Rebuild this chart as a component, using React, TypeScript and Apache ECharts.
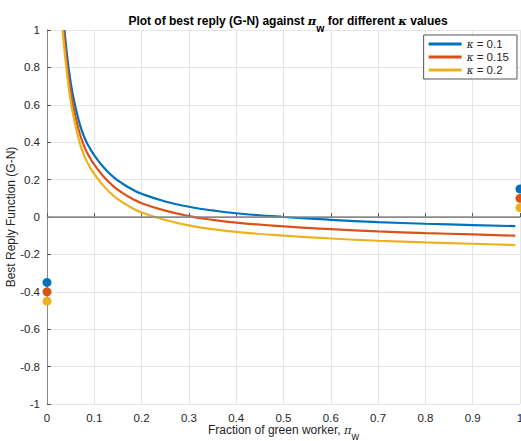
import React, { useEffect, useRef } from "react";
import * as echarts from "echarts";

// Best-reply curves (G-N) for each kappa, as [pi_w, value] pairs
const kappaValues = ["0.1", "0.15", "0.2"];
const seriesColors = ["#0072BD", "#D95319", "#EDB120"];

const curveKappa010: [number, number][] = [
  [0.037, 1.0], [0.04, 0.92], [0.045, 0.81], [0.05, 0.72], [0.055, 0.65],
  [0.06, 0.59], [0.07, 0.49], [0.08, 0.42], [0.09, 0.37], [0.1, 0.33],
  [0.12, 0.265], [0.14, 0.215], [0.16, 0.178], [0.18, 0.148], [0.2, 0.124],
  [0.25, 0.083], [0.3, 0.055], [0.35, 0.035], [0.4, 0.02], [0.5, 0.0],
  [0.6, -0.015], [0.7, -0.027], [0.8, -0.036], [0.9, -0.043], [0.99, -0.049],
];
const curveKappa015: [number, number][] = [
  [0.035, 1.0], [0.04, 0.87], [0.045, 0.76], [0.05, 0.67], [0.055, 0.6],
  [0.06, 0.54], [0.07, 0.44], [0.08, 0.37], [0.09, 0.32], [0.1, 0.28],
  [0.12, 0.215], [0.14, 0.165], [0.16, 0.128], [0.18, 0.098], [0.2, 0.074],
  [0.25, 0.034], [0.3, 0.005], [0.35, -0.015], [0.4, -0.03], [0.5, -0.05],
  [0.6, -0.065], [0.7, -0.077], [0.8, -0.086], [0.9, -0.093], [0.99, -0.1],
];
const curveKappa020: [number, number][] = [
  [0.033, 1.0], [0.035, 0.94], [0.04, 0.82], [0.045, 0.71], [0.05, 0.62],
  [0.055, 0.55], [0.06, 0.49], [0.07, 0.39], [0.08, 0.32], [0.09, 0.27],
  [0.1, 0.23], [0.12, 0.165], [0.14, 0.115], [0.16, 0.078], [0.18, 0.048],
  [0.2, 0.024], [0.25, -0.016], [0.3, -0.045], [0.35, -0.065], [0.4, -0.08],
  [0.5, -0.1], [0.6, -0.115], [0.7, -0.127], [0.8, -0.136], [0.9, -0.143],
  [0.99, -0.15],
];
const curves = [curveKappa010, curveKappa015, curveKappa020];

// Isolated end-point values at pi_w = 0 and pi_w = 1
const valueAtZero = [-0.35, -0.4, -0.45];
const valueAtOne = [0.15, 0.1, 0.05];

const FONT = "'Liberation Sans', Arial, Helvetica, sans-serif";
const GREEK = "'DejaVu Serif', serif";
const TEXT = "#262626";

export default function App() {
  const ref = useRef<HTMLDivElement>(null);

  useEffect(() => {
    if (!ref.current) return;
    const chart = echarts.init(ref.current, undefined, { renderer: "svg" });

    const lineSeries = curves.map((data, i) => ({
      type: "line" as const,
      name: `κ = ${kappaValues[i]}`,
      data,
      showSymbol: false,
      smooth: 0.5,
      clip: true,
      lineStyle: { color: seriesColors[i], width: 2.2 },
      itemStyle: { color: seriesColors[i] },
      z: 3,
      ...(i === 0
        ? {
            markLine: {
              silent: true,
              symbol: "none",
              label: { show: false },
              lineStyle: { color: "#8a8a8a", width: 1.5, type: "solid" },
              data: [{ yAxis: 0 }],
              z: 4,
            },
          }
        : {}),
    }));

    const dotSeries = seriesColors.map((color, i) => ({
      type: "scatter" as const,
      data: [
        [0, valueAtZero[i]],
        [1, valueAtOne[i]],
      ],
      symbol: "circle",
      symbolSize: 9,
      itemStyle: { color, opacity: 1 },
      z: 5 + i,
      clip: false,
    }));

    chart.setOption({
      animation: false,
      backgroundColor: "#ffffff",
      title: {
        text:
          "{b|Plot of best reply (G-N) against }{g|π}{s|w}{b| for different }{g|κ}{b| values}",
        left: 283,
        top: 3,
        textAlign: "center",
        textStyle: {
          rich: {
            b: { fontFamily: FONT, fontWeight: "bold", fontSize: 12, color: "#000" },
            g: { fontFamily: GREEK, fontStyle: "italic", fontSize: 11.5, color: "#000" },
            s: { fontFamily: FONT, fontWeight: "bold", fontSize: 10.5, color: "#000", padding: [14, 0, 0, 0] },
          },
        },
      },
      legend: {
        data: kappaValues.map((k) => `κ = ${k}`),
        orient: "vertical",
        right: 4,
        top: 35,
        icon: "rect",
        itemWidth: 33,
        itemHeight: 3,
        itemGap: 1,
        padding: [3, 8, 3, 5],
        backgroundColor: "#ffffff",
        borderColor: "#555555",
        borderWidth: 1,
        formatter: (name: string) => `{k|κ}{t|${name.slice(1)}}`,
        textStyle: {
          rich: {
            k: { fontFamily: GREEK, fontStyle: "italic", fontSize: 10.5, color: TEXT },
            t: { fontFamily: FONT, fontSize: 11.5, color: TEXT },
          },
        },
      },
      grid: { left: 47, right: 1, top: 30, bottom: 37, containLabel: false, outerBoundsMode: "none" },
      xAxis: {
        type: "value",
        min: 0,
        max: 1,
        interval: 0.1,
        name: "{n|Fraction of green worker, }{g|π}{s|w}",
        nameLocation: "middle",
        nameGap: 14,
        nameMoveOverlap: false,
        nameTextStyle: {
          rich: {
            n: { fontFamily: FONT, fontSize: 12, color: TEXT },
            g: { fontFamily: GREEK, fontStyle: "italic", fontSize: 11.5, color: TEXT },
            s: { fontFamily: FONT, fontSize: 10.5, color: TEXT, padding: [12, 0, 0, 0] },
          },
        },
        axisLine: { show: true, lineStyle: { color: "#8a8a8a", width: 1 } },
        axisTick: { show: true, inside: true, length: 4, lineStyle: { color: "#555" } },
        axisLabel: { fontFamily: FONT, fontSize: 11.5, color: TEXT, margin: 8, showMaxLabel: true, hideOverlap: false },
        splitLine: { show: true, lineStyle: { color: "#e6e6e6", width: 1 } },
      },
      yAxis: {
        type: "value",
        min: -1,
        max: 1,
        interval: 0.2,
        name: "Best Reply Function (G-N)",
        nameLocation: "middle",
        nameGap: 30,
        nameMoveOverlap: false,
        nameTextStyle: { fontFamily: FONT, fontSize: 12, color: TEXT },
        axisLine: { show: true, lineStyle: { color: "#8a8a8a", width: 1 } },
        axisTick: { show: true, inside: true, length: 4, lineStyle: { color: "#555" } },
        axisLabel: { fontFamily: FONT, fontSize: 11.5, color: TEXT, margin: 7 },
        splitLine: { show: true, lineStyle: { color: "#e6e6e6", width: 1 } },
      },
      series: [...lineSeries, ...dotSeries],
    });

    return () => chart.dispose();
  }, []);

  return (
    <div
      ref={ref}
      style={{ position: "absolute", left: 0, top: 0, width: 521, height: 441 }}
    />
  );
}
